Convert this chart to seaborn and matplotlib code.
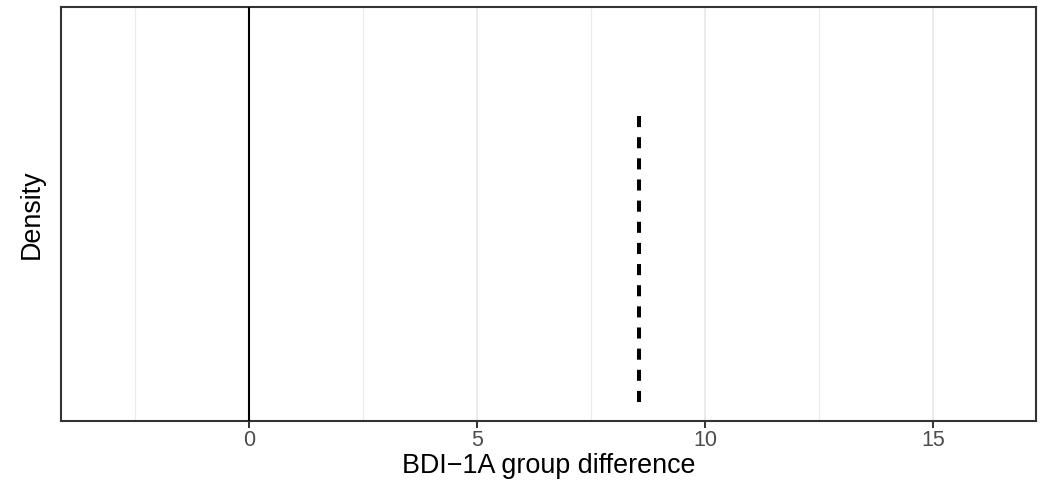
import matplotlib
matplotlib.use("Agg")
import matplotlib.pyplot as plt
import seaborn as sns
import pandas as pd

# data
observed_diff = [8.55, 8.55]
observed_density = [0.0, 0.766]
null_line_x = [0.0, 0.0]
null_line_y = [-0.05, 1.05]
x_major_ticks = [0, 5, 10, 15]
x_minor_ticks = [-2.5, 2.5, 7.5, 12.5]
x_tick_labels = ["0", "5", "10", "15"]
x_label = "BDI\u22121A group difference"
y_label = "Density"

sns.set_theme(style="white")
plt.rcParams['font.family'] = ['Liberation Sans', 'DejaVu Sans']

fig = plt.figure(figsize=(10.45, 4.92), dpi=100)
W, H = 1045, 492
ax = fig.add_axes([61 / W, (H - 421) / H, (1036 - 61) / W, (421 - 7) / H])

ax.set_xlim(-4.12, 17.26)
ax.set_ylim(-0.05, 1.05)

for v in x_major_ticks:
    ax.axvline(v, color="#EBEBEB", lw=1.4, zorder=0)
for v in x_minor_ticks:
    ax.axvline(v, color="#EBEBEB", lw=0.8, zorder=0)

df_null = pd.DataFrame({"x": null_line_x, "y": null_line_y})
sns.lineplot(data=df_null, x="x", y="y", ax=ax, color="black", lw=1.5,
             estimator=None, sort=False, zorder=3)

df_obs = pd.DataFrame({"x": observed_diff, "y": observed_density})
sns.lineplot(data=df_obs, x="x", y="y", ax=ax, color="black", lw=2.9,
             estimator=None, sort=False, zorder=3)
ax.lines[-1].set_dashes([2.75, 2.5])
ax.lines[-1].set_dash_capstyle("butt")

ax.set_xticks(x_major_ticks)
ax.set_xticklabels(x_tick_labels)
ax.set_yticks([])
ax.tick_params(axis="x", which="major", length=4.8, width=1.4, color="#333333",
               labelsize=15.5, labelcolor="#4D4D4D", pad=1.5, bottom=True)

for s in ax.spines.values():
    s.set_color("#333333")
    s.set_linewidth(1.5)
    s.set_visible(True)

ax.set_xlabel(x_label, fontsize=19.4, color="black", labelpad=1.5)
ax.set_ylabel(y_label, fontsize=19.4, color="black", labelpad=12)

fig.savefig("out.png", dpi=100, facecolor="white")
